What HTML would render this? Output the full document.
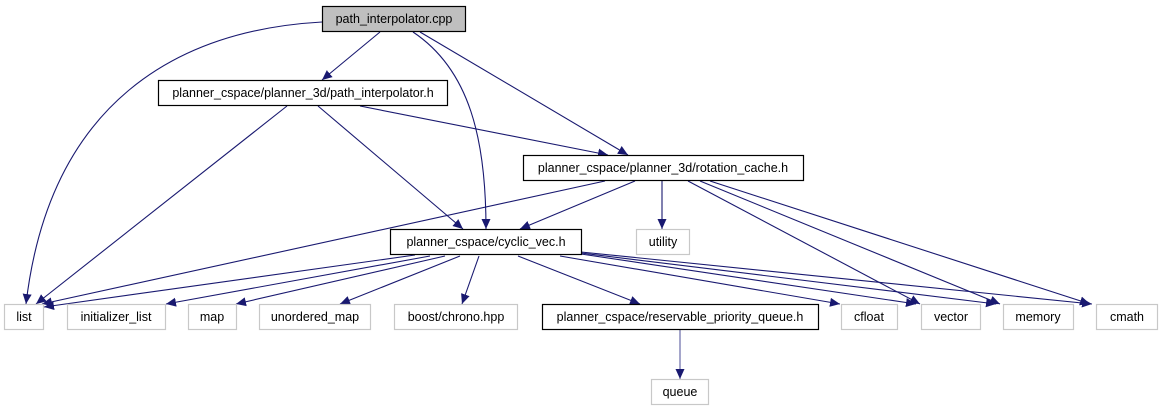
<!DOCTYPE html>
<html><head><meta charset="utf-8"><style>
html,body{margin:0;padding:0;background:#fff;}
svg{display:block;}
text{font-family:"Liberation Sans",sans-serif;font-size:12.5px;fill:#000;text-anchor:middle;}
.e{fill:none;stroke:#191970;stroke-width:1.1;}
</style></head><body>
<svg width="1161" height="411" viewBox="0 0 1161 411" xmlns="http://www.w3.org/2000/svg">
<defs><marker id="a" viewBox="0 0 10 10" refX="10" refY="5" markerWidth="10" markerHeight="10" markerUnits="userSpaceOnUse" orient="auto"><path d="M0,0.5 L10,5 L0,9.5 z" fill="#191970"/></marker></defs>
<g marker-end="url(#a)">
<path class="e" d="M322,22 C180,30 50,100 26,304"/>
<path class="e" d="M380,32 L322,80"/>
<path class="e" d="M413,32 C470,70 486,140 486,229"/>
<path class="e" d="M420,32 L628,155"/>
<path class="e" d="M287,106 L36,304"/>
<path class="e" d="M318,106 L463,229"/>
<path class="e" d="M360,106 L608,155"/>
<path class="e" d="M605,181 L42,304"/>
<path class="e" d="M635,181 L520,229"/>
<path class="e" d="M662,181 L662,229"/>
<path class="e" d="M688,181 L920,304"/>
<path class="e" d="M700,181 L1000,304"/>
<path class="e" d="M710,181 L1090,304"/>
<path class="e" d="M415,255 L44,307"/>
<path class="e" d="M430,256 L166,304"/>
<path class="e" d="M445,256 L236,304"/>
<path class="e" d="M460,256 L340,304"/>
<path class="e" d="M479,256 L462,304"/>
<path class="e" d="M518,256 L640,304"/>
<path class="e" d="M560,256 L840,304"/>
<path class="e" d="M581,254 L916,304"/>
<path class="e" d="M581,253 L996,304"/>
<path class="e" d="M581,252 L1092,304"/>
<path class="e" d="M680,330 L680,379" style="stroke:#5b5ea0"/>
</g>
<g stroke-width="1.2">
<rect x="322.5" y="6.5" width="143" height="25" fill="#bfbfbf" stroke="#000"/>
<rect x="158.5" y="80.5" width="289" height="25" fill="#fff" stroke="#000"/>
<rect x="523.5" y="155.5" width="280" height="25" fill="#fff" stroke="#000"/>
<rect x="390.5" y="229.5" width="191" height="25" fill="#fff" stroke="#000"/>
<rect x="542.5" y="304.5" width="276" height="25" fill="#fff" stroke="#000"/>
</g>
<g fill="#fff" stroke="#c8c8c8" stroke-width="1.2">
<rect x="636.5" y="229.5" width="53" height="25"/>
<rect x="4.5" y="304.5" width="39" height="25"/>
<rect x="67.5" y="304.5" width="98" height="25"/>
<rect x="188.5" y="304.5" width="48" height="25"/>
<rect x="259.5" y="304.5" width="111" height="25"/>
<rect x="394.5" y="304.5" width="123" height="25"/>
<rect x="841.5" y="304.5" width="56" height="25"/>
<rect x="921.5" y="304.5" width="59" height="25"/>
<rect x="1003.5" y="304.5" width="70" height="25"/>
<rect x="1096.5" y="304.5" width="61" height="25"/>
<rect x="651.5" y="379.5" width="57" height="25"/>
</g>
<text x="394" y="23">path_interpolator.cpp</text>
<text x="303" y="97">planner_cspace/planner_3d/path_interpolator.h</text>
<text x="663" y="172">planner_cspace/planner_3d/rotation_cache.h</text>
<text x="486" y="246">planner_cspace/cyclic_vec.h</text>
<text x="663" y="246">utility</text>
<text x="24" y="321">list</text>
<text x="116" y="321">initializer_list</text>
<text x="212" y="321">map</text>
<text x="315" y="321">unordered_map</text>
<text x="456" y="321">boost/chrono.hpp</text>
<text x="680" y="321">planner_cspace/reservable_priority_queue.h</text>
<text x="869" y="321">cfloat</text>
<text x="951" y="321">vector</text>
<text x="1038" y="321">memory</text>
<text x="1127" y="321">cmath</text>
<text x="680" y="396">queue</text>
</svg>
</body></html>
